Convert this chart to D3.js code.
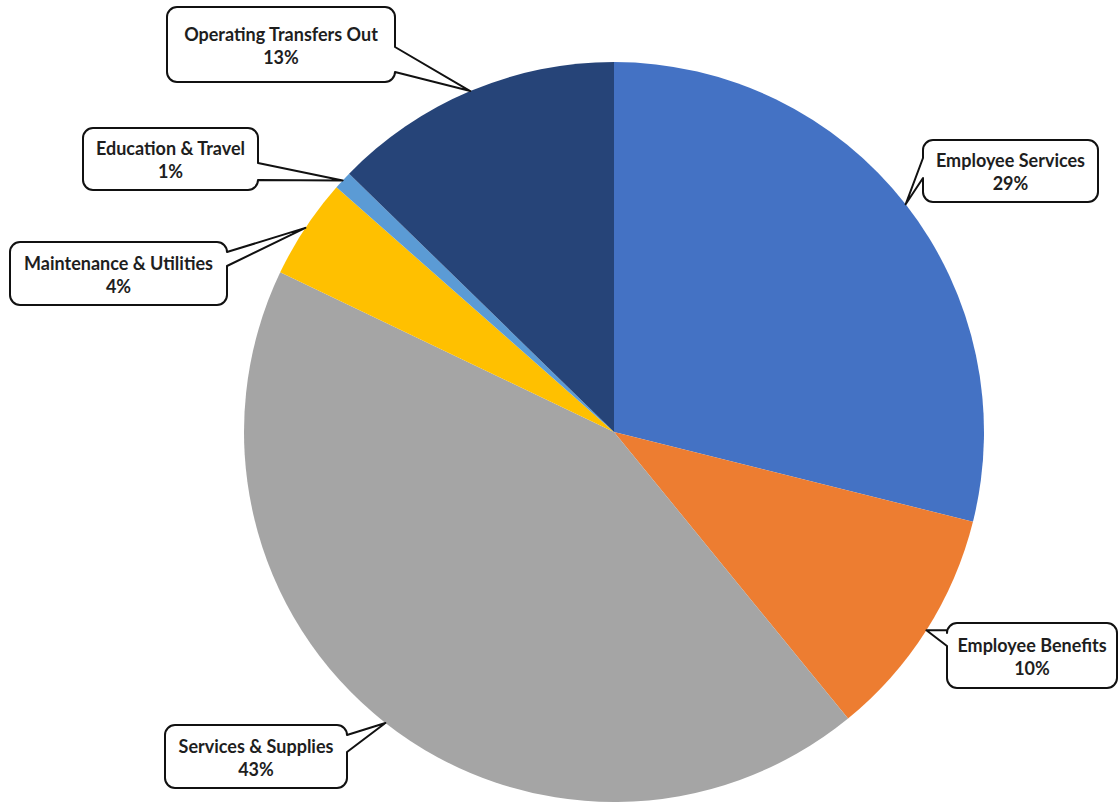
<!DOCTYPE html>
<html><head><meta charset="utf-8">
<script src="https://cdn.jsdelivr.net/npm/d3@7"></script>
<style>html,body{margin:0;padding:0;background:#fff;}svg{display:block;}</style>
</head><body>
<svg id="chart" width="1118" height="808"></svg>
<script>
const categories = ["Employee Services","Employee Benefits","Services & Supplies","Maintenance & Utilities","Education & Travel","Operating Transfers Out"];
const values = [28.9, 10.2, 43.0, 4.4, 0.8, 12.7];
const percentLabels = ["29%","10%","43%","4%","1%","13%"];
const colors = ["#4472C4","#ED7D31","#A5A5A5","#FFC000","#5B9BD5","#264478"];
// callout boxes: [x, y, w, h, side, base1, base2]
const boxes = [
  [923,140,175,62,"left",158,178],
  [947,623,170,65,"left",630,646],
  [165,725,182,63,"right",735,752],
  [10,242,217,63,"right",252,266],
  [83,128,175,62,"right",163,180],
  [167,7,228,75,"right",47,72]
];

const svg = d3.select("#chart");
const cx = 614, cy = 432, R = 370;
const pie = d3.pie().sort(null).value(d => d)(values);
const arc = d3.arc().innerRadius(0).outerRadius(R);
const edge = d3.arc().innerRadius(R).outerRadius(R);
const color = d3.scaleOrdinal().domain(categories).range(colors);

const g = svg.append("g").attr("transform", `translate(${cx},${cy})`);
g.selectAll("path").data(pie).join("path")
  .attr("d", arc).attr("fill", (d,i) => color(categories[i]));

function callout(x,y,w,h,side,b1,b2,tx,ty){
  const r = 10;
  const p = d3.path();
  p.moveTo(x+r,y);
  p.lineTo(x+w-r,y);
  p.arcTo(x+w,y,x+w,y+r,r);
  if(side==="right"){p.lineTo(x+w,b1);p.lineTo(tx,ty);p.lineTo(x+w,b2);}
  p.lineTo(x+w,y+h-r);
  p.arcTo(x+w,y+h,x+w-r,y+h,r);
  p.lineTo(x+r,y+h);
  p.arcTo(x,y+h,x,y+h-r,r);
  if(side==="left"){p.lineTo(x,b2);p.lineTo(tx,ty);p.lineTo(x,b1);}
  p.lineTo(x,y+r);
  p.arcTo(x,y,x+r,y,r);
  p.closePath();
  return p.toString();
}

const lab = svg.append("g");
pie.forEach((d,i) => {
  const [x,y,w,h,side,b1,b2] = boxes[i];
  const c = edge.centroid(d);
  const tx = cx + c[0], ty = cy + c[1];
  lab.append("path").attr("d", callout(x,y,w,h,side,b1,b2,tx,ty))
    .attr("fill","#fff").attr("stroke","#111").attr("stroke-width",2).attr("stroke-linejoin","round");
  const mx = x + w/2, my = y + h/2;
  lab.append("text").attr("x",mx).attr("y",my-4).attr("text-anchor","middle")
    .attr("font-family","Lato, 'Open Sans', sans-serif").attr("font-weight","bold").attr("font-size","18px")
    .attr("fill","#1e1e1e").text(categories[i]);
  lab.append("text").attr("x",mx).attr("y",my+19).attr("text-anchor","middle")
    .attr("font-family","Lato, 'Open Sans', sans-serif").attr("font-weight","bold").attr("font-size","18px")
    .attr("fill","#1e1e1e").text(percentLabels[i]);
});
</script>
</body></html>
